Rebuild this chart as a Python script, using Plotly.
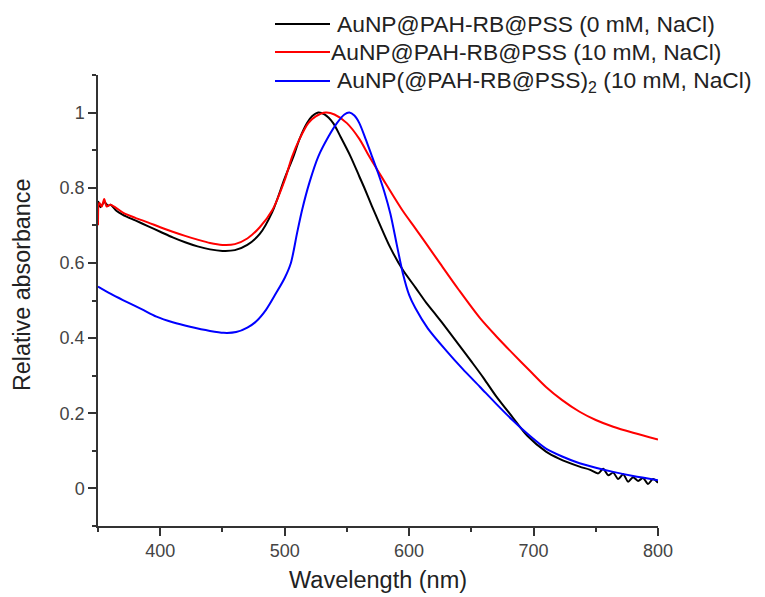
import plotly.graph_objects as go

# ---- data ----
wl_black = [350, 352, 355, 358, 360, 365, 370, 380, 390, 400, 410, 420, 430, 440, 450, 460, 470, 480,
            490, 500, 507, 512, 518, 522, 527, 532, 539, 545, 553, 560, 564, 570, 576, 585, 595, 605,
            614, 622, 630, 640, 650, 660, 670, 683, 695, 710, 720, 737, 745, 752, 756, 760, 764, 768,
            772, 776, 780, 784, 788, 792, 796, 800]
abs_black = [0.765, 0.748, 0.762, 0.752, 0.755, 0.738, 0.728, 0.713, 0.698, 0.683, 0.668, 0.655, 0.644,
             0.636, 0.632, 0.634, 0.648, 0.677, 0.735, 0.825, 0.883, 0.93, 0.972, 0.99, 1.0, 0.995,
             0.972, 0.935, 0.883, 0.83, 0.80, 0.752, 0.706, 0.64, 0.581, 0.535, 0.493, 0.46, 0.426,
             0.382, 0.338, 0.293, 0.245, 0.19, 0.14, 0.098, 0.08, 0.058, 0.05, 0.04, 0.052, 0.035,
             0.042, 0.025, 0.038, 0.018, 0.03, 0.02, 0.028, 0.012, 0.025, 0.015]

wl_red = [350, 351, 353, 355, 357, 360, 370, 380, 390, 400, 410, 420, 430, 440, 450, 460, 470, 480,
          490, 500, 506, 512, 519, 525, 533, 540, 550, 560, 568, 579, 595, 605, 614, 625, 640, 657,
          670, 683, 697, 710, 723, 737, 750, 764, 780, 800]
abs_red = [0.70, 0.76, 0.75, 0.77, 0.75, 0.755, 0.734, 0.72, 0.708, 0.695, 0.683, 0.672, 0.662,
           0.653, 0.648, 0.650, 0.665, 0.695, 0.74, 0.82, 0.883, 0.93, 0.972, 0.99, 1.0, 0.995,
           0.972, 0.93, 0.883, 0.823, 0.738, 0.692, 0.650, 0.598, 0.528, 0.453, 0.405, 0.36, 0.313,
           0.27, 0.235, 0.204, 0.182, 0.164, 0.148, 0.13]

wl_blue = [350, 360, 370, 385, 397, 410, 424, 440, 451, 461, 470, 477, 485, 493, 500, 505, 510, 514,
           520, 527, 535, 542, 548, 552, 556, 560, 565, 570, 575, 580, 585, 590, 595, 600, 605, 615,
           630, 643, 657, 670, 683, 697, 710, 723, 737, 750, 764, 780, 800]
abs_blue = [0.537, 0.518, 0.501, 0.477, 0.457, 0.442, 0.43, 0.419, 0.414, 0.416, 0.428, 0.444, 0.475,
            0.519, 0.56, 0.6, 0.68, 0.741, 0.815, 0.883, 0.935, 0.972, 0.995, 1.0, 0.992, 0.972,
            0.93, 0.885, 0.84, 0.79, 0.73, 0.65, 0.572, 0.515, 0.48, 0.426, 0.366, 0.318, 0.27, 0.225,
            0.182, 0.14, 0.106, 0.085, 0.067, 0.055, 0.044, 0.033, 0.022]

series_names = ["AuNP@PAH-RB@PSS (0 mM, NaCl)",
                "AuNP@PAH-RB@PSS (10 mM, NaCl)",
                "AuNP(@PAH-RB@PSS)<sub>2</sub> (10 mM, NaCl)"]
series_colors = ["#000000", "#ff0000", "#0000ff"]

x_tickvals = [400, 500, 600, 700, 800]
y_tickvals = [0, 0.2, 0.4, 0.6, 0.8, 1]
y_ticktext = ["0", "0.2", "0.4", "0.6", "0.8", "1"]

FONT = "Arial, 'Liberation Sans', Helvetica, sans-serif"

fig = go.Figure()
for wl, ab, name, col in zip([wl_black, wl_red, wl_blue], [abs_black, abs_red, abs_blue],
                             series_names, series_colors):
    fig.add_trace(go.Scatter(x=wl, y=ab, mode="lines", name=name,
                             line=dict(color=col, width=2, shape="spline", smoothing=0.8),
                             showlegend=False))

# plot area in pixels (from reference)
W, H = 765, 597
L, R, T, B = 98, 658, 75, 526
pw, ph = R - L, B - T

def px(x):
    return (x - L) / pw

def py(y):
    return (B - y) / ph

# custom legend
leg_y = [24, 52, 81]
leg_tx = [335, 329, 335]
for i in range(3):
    fig.add_shape(type="line", xref="paper", yref="paper",
                  x0=px(275), x1=px(330), y0=py(leg_y[i]), y1=py(leg_y[i]),
                  line=dict(color=series_colors[i], width=2))
    fig.add_annotation(xref="paper", yref="paper", x=px(leg_tx[i]), y=py(leg_y[i]),
                       text=series_names[i], showarrow=False, xanchor="left", yanchor="middle",
                       font=dict(family=FONT, size=22.8, color="#222222"))

# axis titles
fig.add_annotation(xref="paper", yref="paper", x=px(378), y=py(580), text="Wavelength (nm)",
                   showarrow=False, xanchor="center", yanchor="middle",
                   font=dict(family=FONT, size=23.5, color="#222222"))
fig.add_annotation(xref="paper", yref="paper", x=px(22), y=py(285), text="Relative absorbance",
                   showarrow=False, xanchor="center", yanchor="middle", textangle=-90,
                   font=dict(family=FONT, size=23.3, color="#222222"))

axis_common = dict(showline=True, linecolor="#333333", linewidth=1.5, ticks="outside",
                   ticklen=8, tickwidth=1.5, tickcolor="#333333", showgrid=False, zeroline=False,
                   tickfont=dict(family=FONT, size=18, color="#444444"))

fig.update_xaxes(range=[350, 800], tickvals=x_tickvals,
                 minor=dict(ticks="outside", ticklen=4, tickwidth=1.5, tickcolor="#333333", dtick=50, tick0=350),
                 **axis_common)
fig.update_yaxes(range=[-0.1, 1.1], tickvals=y_tickvals, ticktext=y_ticktext,
                 minor=dict(ticks="outside", ticklen=4, tickwidth=1.5, tickcolor="#333333", dtick=0.1, tick0=-0.1),
                 **axis_common)

fig.update_layout(width=W, height=H, margin=dict(l=L, r=W - R, t=T, b=H - B),
                  plot_bgcolor="white", paper_bgcolor="white", showlegend=False)

fig.write_html("out.html")
